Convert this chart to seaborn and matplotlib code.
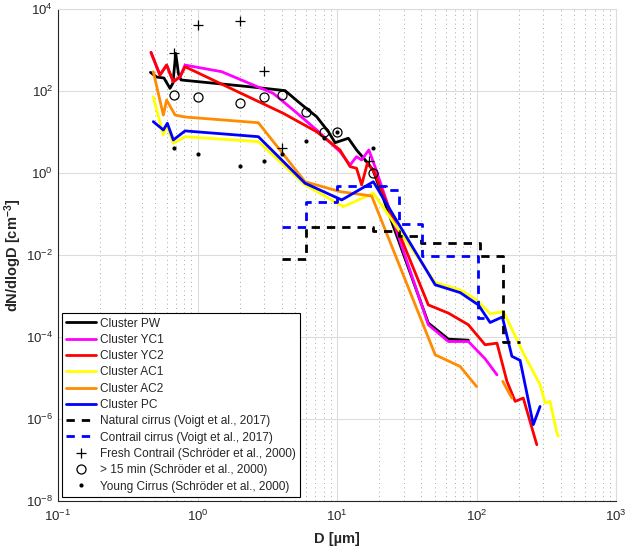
import numpy as np
import seaborn as sns
import matplotlib
matplotlib.use("Agg")
import matplotlib.pyplot as plt
from matplotlib.ticker import FixedLocator, LogLocator, NullLocator, NullFormatter, LogFormatterSciNotation

# cluster size distributions (D in um, dN/dlogD in cm^-3)
d_pw = [0.46, 0.51, 0.575, 0.635, 0.667, 0.698, 0.731, 0.762, 2.38, 4.24, 5.43, 7.14, 8.67, 9.68,
        12.05, 13.8, 15.9, 18.1, 45.1, 62.8, 87.3]
n_pw = [290, 223, 211, 118, 159, 845, 264, 189, 129, 104, 51, 24, 10.3, 5.57,
        7.14, 3.70, 2.11, 1.20, 2.2e-4, 8.9e-5, 8.4e-5]

d_yc1 = [0.464, 0.538, 0.601, 0.671, 0.75, 0.814, 1.49, 3.49, 4.86, 7.14, 10.5, 12.4, 13.8, 15.0,
         16.9, 18.7, 45.1, 62.8, 87.3, 115, 140]
n_yc1 = [893, 250, 437, 171, 227, 437, 301, 89, 35, 11.4, 3.36, 1.59, 2.54, 2.11,
         3.70, 1.45, 2.0e-4, 7.8e-5, 7.8e-5, 2.96e-5, 1.2e-5]

d_yc2 = [0.464, 0.538, 0.601, 0.671, 0.75, 0.814, 4.12, 7.14, 10.5, 12.4, 13.8, 15.0, 16.5, 18.4,
         45.1, 62.8, 87.3, 115, 140, 165, 189, 216, 270]
n_yc2 = [893, 250, 437, 171, 227, 398, 29.0, 10.3, 3.70, 1.45, 1.32, 0.52, 1.75, 1.09,
         6.1e-4, 3.85e-4, 2.0e-4, 6.5e-5, 7.1e-5, 8.3e-6, 2.7e-6, 3.25e-6, 2.36e-7]

d_ac1 = [0.482, 0.569, 0.601, 0.671, 0.814, 2.73, 5.90, 11.1, 18.2, 50.5, 76.2, 100, 125, 156,
         216, 285, 310, 336, 376, 385]
n_ac1 = [73.8, 8.6, 15, 5.4, 7.8, 5.9, 0.52, 0.153, 0.325, 2.15e-3, 1.43e-3, 8.1e-4, 3.7e-4, 4.2e-4,
         4.1e-5, 6.9e-6, 2.45e-6, 2.7e-6, 4.6e-7, 3.8e-7]

d_ac2 = [0.482, 0.569, 0.601, 0.690, 0.814, 2.73, 5.90, 10.5, 17.7, 50.5, 76.2, 100]
n_ac2 = [301, 26.4, 61, 26.4, 23.6, 17.1, 0.62, 0.356, 0.279, 3.7e-5, 1.92e-5, 6.2e-6]
d_ac2_tail = [154, 179]
n_ac2_tail = [8.3e-6, 3.25e-6]

d_pc = [0.482, 0.569, 0.608, 0.671, 0.814, 2.73, 5.90, 10.8, 18.2, 50.5, 76.2, 103, 125, 153,
        179, 205, 255, 285]
n_pc = [18.2, 11.4, 16.6, 6.5, 10.8, 7.8, 0.57, 0.223, 0.62, 1.89e-3, 1.22e-3, 6.1e-4, 2.27e-4, 3.1e-4,
        3.4e-5, 2.7e-5, 7.3e-7, 2.03e-6]

# Voigt et al. 2017 binned spectra (bin left edges, last value repeated)
d_nat = [4, 6, 18, 28, 40, 105, 154, 205]
n_nat = [8.1e-3, 0.05, 0.038, 0.030, 0.020, 9.6e-3, 7.8e-5, 7.8e-5]
d_con = [4, 6, 10, 22.5, 28, 40.8, 103, 125]
n_con = [0.05, 0.2, 0.49, 0.38, 0.058, 9.6e-3, 3.0e-4, 3.0e-4]

# Schroeder et al. 2000
d_fresh = [0.68, 1.0, 2.0, 3.0, 4.0, 17.0]
n_fresh = [845, 4140, 5190, 313, 4.07, 2.0]
d_old = [0.68, 1.0, 2.0, 3.0, 4.0, 6.0, 8.0, 10.0, 18.0]
n_old = [81, 71, 51, 71, 81, 30.8, 10.3, 10, 1.0]
d_young = [0.68, 1.0, 2.0, 3.0, 4.0, 6.0, 8.0, 10.0, 18.0]
n_young = [4.07, 3.0, 1.53, 2.03, 3.0, 6.1, 7.3, 10, 4.07]

clusters = [
    ("Cluster PW", d_pw, n_pw, "black"),
    ("Cluster YC1", d_yc1, n_yc1, "#ff00ff"),
    ("Cluster YC2", d_yc2, n_yc2, "#ff0000"),
    ("Cluster AC1", d_ac1, n_ac1, "#ffff00"),
    ("Cluster AC2", d_ac2, n_ac2, "#ff8c00"),
    ("Cluster PC", d_pc, n_pc, "#0000ff"),
]

sns.set_theme(style="white")
plt.rcParams['font.family'] = ['Liberation Sans', 'DejaVu Sans']
plt.rcParams['mathtext.default'] = 'regular'

fig = plt.figure(figsize=(6.3, 5.52), dpi=100)
ax = fig.add_axes([0.092, 0.0925, 0.886, 0.8905])
ax.set_xscale("log")
ax.set_yscale("log")

lw = 2.0
for label, d, n, c in clusters:
    sns.lineplot(x=d, y=n, color=c, lw=lw, label=label, sort=False, estimator=None, ax=ax)
    if label == "Cluster AC2":
        sns.lineplot(x=d_ac2_tail, y=n_ac2_tail, color=c, lw=lw, label="_nolegend_",
                     sort=False, estimator=None, ax=ax)

dash = (0, (3, 2.5))
sns.lineplot(x=d_nat, y=n_nat, color="black", lw=lw, linestyle=dash, drawstyle="steps-post",
             label="Natural cirrus (Voigt et al., 2017)", sort=False, estimator=None, ax=ax)
sns.lineplot(x=d_con, y=n_con, color="#0000ff", lw=lw, linestyle=dash, drawstyle="steps-post",
             label="Contrail cirrus (Voigt et al., 2017)", sort=False, estimator=None, ax=ax)

sns.lineplot(x=d_fresh, y=n_fresh, color="black", linestyle="none", marker="+", markersize=6.5,
             markeredgecolor="black", markeredgewidth=0.9,
             label="Fresh Contrail (Schröder et al., 2000)", sort=False, estimator=None, ax=ax)
sns.lineplot(x=d_old, y=n_old, color="black", linestyle="none", marker="o", markersize=6.5,
             markerfacecolor="none", markeredgecolor="black", markeredgewidth=0.9,
             label="> 15 min (Schröder et al., 2000)", sort=False, estimator=None, ax=ax)
sns.lineplot(x=d_young, y=n_young, color="black", linestyle="none", marker="o", markersize=3,
             markeredgecolor="black", markeredgewidth=0,
             label="Young Cirrus (Schröder et al., 2000)", sort=False, estimator=None, ax=ax)

ax.set_xlim(0.1, 1000)
ax.set_ylim(1e-8, 1e4)

ax.yaxis.set_major_locator(FixedLocator([1e-8, 1e-6, 1e-4, 1e-2, 1e0, 1e2, 1e4]))
ax.yaxis.set_major_formatter(LogFormatterSciNotation())
ax.yaxis.set_minor_locator(NullLocator())
ax.xaxis.set_major_locator(FixedLocator([1e-1, 1e0, 1e1, 1e2, 1e3]))
ax.xaxis.set_major_formatter(LogFormatterSciNotation())
ax.xaxis.set_minor_locator(LogLocator(base=10, subs=np.arange(2, 10), numticks=20))
ax.xaxis.set_minor_formatter(NullFormatter())

ax.grid(True, which="major", axis="both", color="#dcdcdc", lw=0.8)
ax.grid(True, which="minor", axis="x", color="#a8a8a8", lw=0.7, linestyle=(0, (1, 3.5)))
ax.set_axisbelow(True)

for side in ["left", "bottom"]:
    ax.spines[side].set_color("#262626")
    ax.spines[side].set_linewidth(0.8)
for side in ["top", "right"]:
    ax.spines[side].set_color("#dcdcdc")
    ax.spines[side].set_linewidth(0.8)

ax.tick_params(which="both", direction="in", colors="#262626", labelsize=9.5, top=False, right=False)
ax.tick_params(which="major", length=4, width=0.7)
ax.tick_params(which="minor", length=2.5, width=0.6)
ax.tick_params(axis="x", which="major", pad=6)

ax.set_xlabel("D [µm]", fontsize=10.5, fontweight="bold", color="#262626")
ax.set_ylabel("dN/dlogD [cm$^{-3}$]", fontsize=10.5, fontweight="bold", color="#262626")
ax.xaxis.set_label_coords(0.5, -0.064)
ax.yaxis.set_label_coords(-0.06, 0.5)

order = [c[0] for c in clusters] + [
    "Natural cirrus (Voigt et al., 2017)",
    "Contrail cirrus (Voigt et al., 2017)",
    "Fresh Contrail (Schröder et al., 2000)",
    "> 15 min (Schröder et al., 2000)",
    "Young Cirrus (Schröder et al., 2000)",
]
handles, labels = ax.get_legend_handles_labels()
lookup = dict(zip(labels, handles))
leg = ax.legend([lookup[l] for l in order], order, loc="lower left", fontsize=8.6,
                frameon=True, fancybox=False, framealpha=1, edgecolor="black",
                borderaxespad=0.3, labelspacing=0.36, handlelength=2.5, handletextpad=0.3,
                borderpad=0.4)
leg.get_frame().set_linewidth(0.8)

fig.savefig("out.png", dpi=100)
